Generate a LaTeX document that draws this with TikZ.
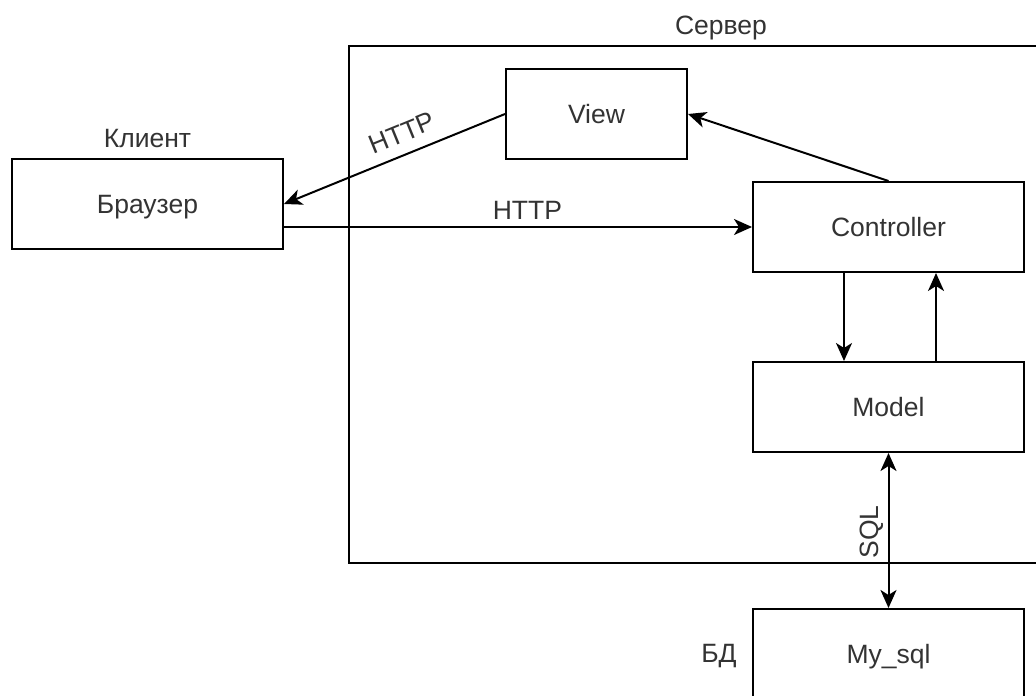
\documentclass[tikz,border=0pt]{standalone}
\usepackage{fontspec}
\setmainfont{Liberation Sans}
\usetikzlibrary{arrows.meta,calc}

\begin{document}
\begin{tikzpicture}[x=1pt,y=-1pt,
  >={Stealth[length=18pt,width=16pt,inset=5pt]},
  every node/.style={font=\fontsize{26.5}{32}\selectfont, text=black!80},
  box/.style={draw=black, line width=2pt, minimum height=90pt, inner sep=0pt,
              text height=19pt, text depth=0pt},
  wide/.style={box, minimum width=271pt},
  link/.style={line width=2pt, ->},
  dlink/.style={line width=2pt, <->},
]
\clip (0,0) rectangle (1036,696);
\fill[white] (0,0) rectangle (1036,696);

% server frame (runs off the right edge)
\draw[line width=2pt] (1060,46) -- (349,46) -- (349,563) -- (1060,563);

% boxes
\node[box, minimum width=181pt] (view) at (596.5,114) {View};
\node[wide] (browser) at (147.5,204) {Браузер};
\node[wide] (ctrl) at (888.5,227) {Controller};
\node[wide] (model) at (888.5,407) {Model};
\node[wide] (db) at (888.5,654) {My\_sql};

% group labels
\node[anchor=base] (srvlabel) at (721,34) {Сервер};
\node[anchor=base] (clientlabel) at (147.5,147) {Клиент};
\node[anchor=base] (dblabel) at (719,662) {БД};

% connectors
\draw[link] (view.west) -- node[pos=0.43, sloped, above=8pt] {HTTP} (browser.east);
\draw[link] (ctrl.north) -- (view.east);
\draw[link] (browser.east |- ctrl.west) -- node[pos=0.52, above=3pt] {HTTP} (ctrl.west);
\draw[link] ([xshift=-44.5pt]ctrl.south) -- ([xshift=-44.5pt]model.north);
\draw[link] ([xshift=47.5pt]model.north) -- ([xshift=47.5pt]ctrl.south);
\draw[dlink] (model.south) -- node[pos=0.51, rotate=90, anchor=south, inner sep=4pt] {SQL} (db.north);
\end{tikzpicture}
\end{document}
